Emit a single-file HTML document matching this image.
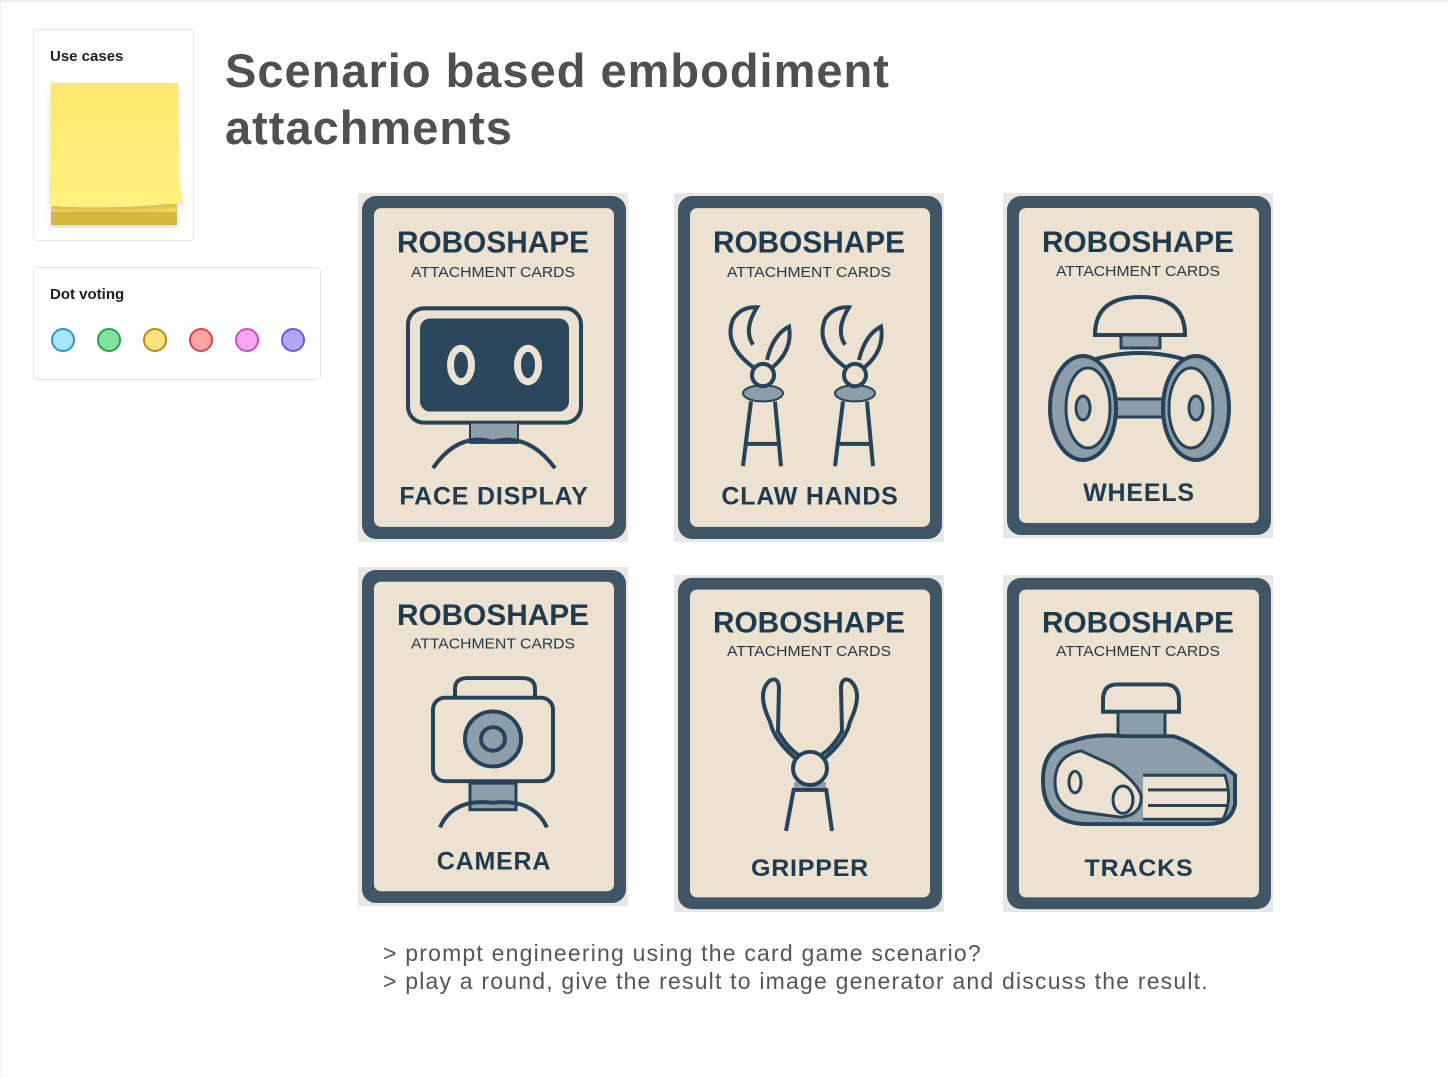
<!DOCTYPE html>
<html>
<head>
<meta charset="utf-8">
<style>
  html,body{margin:0;padding:0;background:#fff;}
  body{width:1448px;height:1078px;position:relative;overflow:hidden;font-family:"Liberation Sans",sans-serif;}
  .topline{position:absolute;left:0;top:0;width:1448px;height:2px;background:#ececec;}
  .leftline{position:absolute;left:0;top:0;width:1px;height:1078px;background:#f0f0f0;}
  .panel{position:absolute;background:#fff;border:1px solid #e3e3ea;border-radius:4px;box-sizing:border-box;}
  .panel-title{position:absolute;left:16px;top:18px;font-size:15px;font-weight:bold;color:#1e1e1e;}
  .dot{position:absolute;top:60px;width:24px;height:24px;border-radius:50%;box-sizing:border-box;border:2px solid;}
  .title{position:absolute;left:225px;top:42px;font-size:47px;font-weight:bold;color:#505050;line-height:57px;letter-spacing:1px;}
  .notes{position:absolute;left:383px;top:939px;font-size:23px;color:#555;line-height:28px;letter-spacing:1.2px;}
</style>
</head>
<body>
<div class="topline"></div>
<div class="leftline"></div>

<div class="panel" style="left:33px;top:29px;width:161px;height:212px;">
  <div class="panel-title">Use cases</div>
  <svg style="position:absolute;left:10px;top:48px;" width="150" height="160">
    <defs>
      <linearGradient id="sg" x1="0" y1="0" x2="0" y2="1">
        <stop offset="0" stop-color="#ffe66e"/><stop offset="1" stop-color="#fff27e"/>
      </linearGradient>
      <filter id="sh" x="-20%" y="-20%" width="140%" height="140%"><feDropShadow dx="0" dy="3" stdDeviation="3" flood-color="#000" flood-opacity="0.15"/></filter>
    </defs>
    <rect x="7" y="133" width="126" height="14" fill="#d9b73a" filter="url(#sh)"/>
    <rect x="7" y="126" width="126" height="8" fill="#f5d85e"/>
    <path d="M7 5 L134 5 L135 100 Q137 118 140 124 Q80 132 6 128 Z" fill="url(#sg)" filter="url(#sh)"/>
  </svg>
</div>

<div class="panel" style="left:33px;top:267px;width:288px;height:113px;">
  <div class="panel-title">Dot voting</div>
  <div class="dot" style="left:17px;background:#a8e3fb;border-color:#239ad0;"></div>
  <div class="dot" style="left:63px;background:#7fe2a0;border-color:#25a04e;"></div>
  <div class="dot" style="left:109px;background:#fbe27a;border-color:#b48d17;"></div>
  <div class="dot" style="left:155px;background:#fba3a3;border-color:#d34848;"></div>
  <div class="dot" style="left:201px;background:#f9a6ee;border-color:#cb4fc0;"></div>
  <div class="dot" style="left:247px;background:#b2a5fa;border-color:#6e58dd;"></div>
</div>

<div class="title">Scenario based embodiment<br>attachments</div>

<svg id="cards" style="position:absolute;left:0;top:0;" width="1448" height="1078"></svg>

<div class="notes">&gt; prompt engineering using the card game scenario?<br>&gt; play a round, give the result to image generator and discuss the result.</div>

<script>
const cardLabels = ["FACE DISPLAY","CLAW HANDS","WHEELS","CAMERA","GRIPPER","TRACKS"];
const cardKinds = ["face","claw","wheels","camera","gripper","tracks"];
const cardX = [358,674,1003,358,674,1003];
const cardY = [193,193,193,567,575,575];
const cardH = [349,349,345,339,337,337];

const NS = "http://www.w3.org/2000/svg";
const svg = document.getElementById('cards');
const D = "#26435a", G = "#8d9eab", C = "#ece2cf";

const icons = {
  face: `<rect x="50" y="114" width="173" height="113" rx="16" fill="none" stroke="${D}" stroke-width="4"/>
    <rect x="62" y="124" width="149" height="92" rx="10" fill="#2b475c"/>
    <ellipse cx="103" cy="170" rx="14" ry="20" fill="${C}"/><ellipse cx="103" cy="170" rx="7" ry="13" fill="#2b475c"/>
    <ellipse cx="170" cy="170" rx="14" ry="20" fill="${C}"/><ellipse cx="170" cy="170" rx="7" ry="13" fill="#2b475c"/>
    <rect x="112" y="227" width="48" height="20" fill="${G}" stroke="${D}" stroke-width="2"/>
    <path d="M75 272 Q100 236 135 246 Q170 236 197 272" fill="none" stroke="${D}" stroke-width="4"/>`,
  claw: (() => { let s=""; [89,181].forEach(cx=>{ s+=`
    <path d="M${cx-10} 172 Q${cx-40} 150 ${cx-30} 125 Q${cx-22} 112 ${cx-6} 113 Q${cx-20} 135 ${cx-10} 150" fill="none" stroke="${D}" stroke-width="4"/>
    <path d="M${cx+10} 172 Q${cx+30} 155 ${cx+26} 132 Q${cx+10} 140 ${cx+4} 165" fill="none" stroke="${D}" stroke-width="4"/>
    <ellipse cx="${cx}" cy="198" rx="20" ry="8" fill="${G}" stroke="${D}" stroke-width="2"/>
    <circle cx="${cx}" cy="180" r="11" fill="${C}" stroke="${D}" stroke-width="4"/>
    <path d="M${cx-12} 206 L${cx-20} 270 M${cx+12} 206 L${cx+18} 270 M${cx-17} 248 L${cx+15} 248" fill="none" stroke="${D}" stroke-width="4"/>`;}); return s; })(),
  wheels: `<path d="M92 142 Q92 104 137 104 Q182 104 182 142 Z" fill="${C}" stroke="${D}" stroke-width="4"/>
    <rect x="118" y="142" width="39" height="13" fill="${G}" stroke="${D}" stroke-width="3"/>
    <path d="M80 170 Q137 150 193 170" fill="none" stroke="${D}" stroke-width="4"/>
    <rect x="110" y="206" width="56" height="18" fill="${G}" stroke="${D}" stroke-width="3"/>
    <ellipse cx="80" cy="215" rx="33" ry="52" fill="${G}" stroke="${D}" stroke-width="4"/>
    <ellipse cx="85" cy="215" rx="22" ry="40" fill="${C}" stroke="${D}" stroke-width="3"/>
    <ellipse cx="80" cy="215" rx="7" ry="12" fill="${G}" stroke="${D}" stroke-width="3"/>
    <ellipse cx="193" cy="215" rx="33" ry="52" fill="${G}" stroke="${D}" stroke-width="4"/>
    <ellipse cx="188" cy="215" rx="22" ry="40" fill="${C}" stroke="${D}" stroke-width="3"/>
    <ellipse cx="193" cy="215" rx="7" ry="12" fill="${G}" stroke="${D}" stroke-width="3"/>`,
  camera: `<path d="M97 133 L97 124 Q97 113 110 113 L164 113 Q177 113 177 124 L177 133" fill="none" stroke="${D}" stroke-width="4"/>
    <rect x="75" y="133" width="120" height="85" rx="12" fill="none" stroke="${D}" stroke-width="4"/>
    <circle cx="135" cy="175" r="28" fill="${G}" stroke="${D}" stroke-width="4"/>
    <circle cx="135" cy="175" r="12" fill="none" stroke="${D}" stroke-width="4"/>
    <rect x="112" y="220" width="46" height="27" fill="${G}" stroke="${D}" stroke-width="3"/>
    <path d="M82 265 Q95 235 135 240 Q175 235 189 265" fill="none" stroke="${D}" stroke-width="4"/>`,
  gripper: `<path d="M124 190 Q100 170 96 150 Q82 120 96 108 Q104 104 105 115 L104 160 Q114 178 126 185" fill="none" stroke="${D}" stroke-width="4"/>
    <path d="M148 190 Q172 170 176 150 Q190 120 176 108 Q168 104 167 115 L168 160 Q158 178 146 185" fill="none" stroke="${D}" stroke-width="4"/>
    <rect x="120" y="212" width="32" height="8" fill="${G}"/>
    <circle cx="136" cy="198" r="17" fill="${C}" stroke="${D}" stroke-width="4"/>
    <path d="M120 218 L112 262 M152 218 L158 262 M120 220 L152 220" fill="none" stroke="${D}" stroke-width="4"/>`,
  tracks: `<path d="M100 140 L100 128 Q100 112 114 112 L162 112 Q176 112 176 128 L176 140 Z" fill="${C}" stroke="${D}" stroke-width="4"/>
    <rect x="115" y="140" width="47" height="25" fill="${G}" stroke="${D}" stroke-width="3"/>
    <path d="M70 170 Q90 162 120 165 L170 165 Q190 170 232 205 L232 235 Q228 255 205 255 L85 255 Q40 255 40 210 Q40 175 70 170 Z" fill="${G}" stroke="${D}" stroke-width="4"/>
    <path d="M140 205 L222 205 Q230 230 220 250 L140 250" fill="${C}" stroke="${D}" stroke-width="3"/>
    <path d="M145 220 L226 220 M145 236 L226 236" stroke="${D}" stroke-width="3"/>
    <path d="M78 180 Q52 185 52 212 Q52 240 82 243 L118 248 Q140 245 138 225 Q132 210 110 195 Z" fill="${C}" stroke="${D}" stroke-width="3"/>
    <ellipse cx="72" cy="212" rx="6" ry="11" fill="none" stroke="${D}" stroke-width="3"/>
    <ellipse cx="120" cy="230" rx="10" ry="14" fill="none" stroke="${D}" stroke-width="3"/>`
};

for (let i = 0; i < cardLabels.length; i++) {
  const g = document.createElementNS(NS, 'g');
  
  
  const sy = cardH[i] / 345;
  g.setAttribute('transform', `translate(${cardX[i]},${cardY[i]}) scale(1,${sy})`);
  g.innerHTML = `
    <rect x="0" y="0" width="270" height="345" fill="#e9e7e3"/>
    <rect x="4" y="3" width="264" height="339" rx="14" fill="#3e5666"/>
    <rect x="16" y="15" width="240" height="315" rx="7" fill="${C}"/>
    <text x="135" y="59" text-anchor="middle" font-family="Liberation Sans, sans-serif" font-weight="bold" font-size="30" fill="#1f3b50" textLength="192" lengthAdjust="spacingAndGlyphs">ROBOSHAPE</text>
    <text x="135" y="83" text-anchor="middle" font-family="Liberation Sans, sans-serif" font-size="15" fill="#233a4c" textLength="164" lengthAdjust="spacingAndGlyphs">ATTACHMENT CARDS</text>
    ${icons[cardKinds[i]]}
    <text x="136" y="308" text-anchor="middle" font-family="Liberation Sans, sans-serif" font-weight="bold" font-size="25" fill="#1f3b50" letter-spacing="0.8">${cardLabels[i]}</text>`;
  svg.appendChild(g);
}
</script>
</body>
</html>
